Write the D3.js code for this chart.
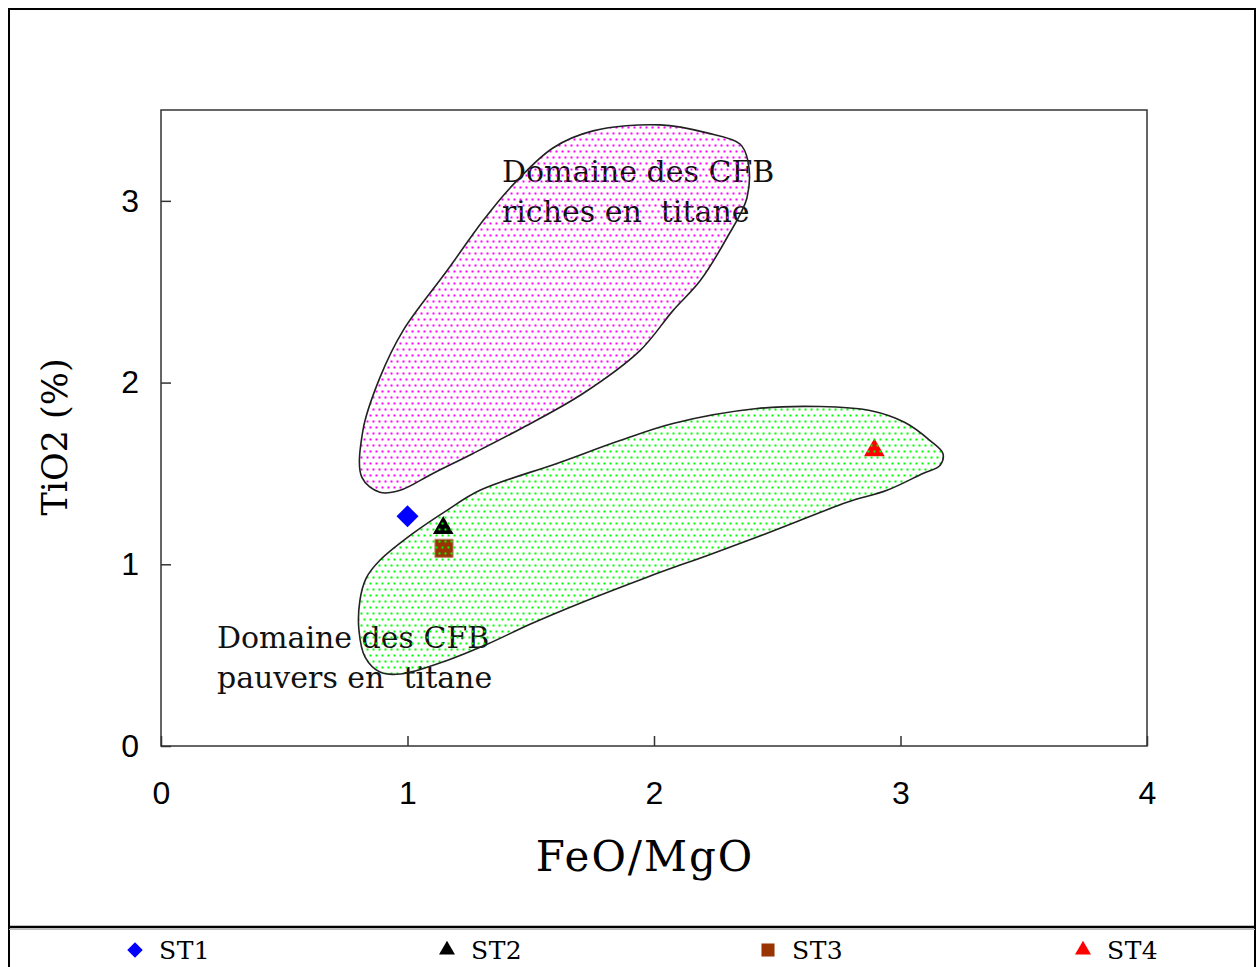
<!DOCTYPE html>
<html>
<head>
<meta charset="utf-8">
<script src="https://cdn.jsdelivr.net/npm/d3@7/dist/d3.min.js"></script>
<style>
  html, body { margin: 0; padding: 0; background: #fff; }
  svg { display: block; }
  text { white-space: pre; }
</style>
</head>
<body>
<svg id="chart" width="1258" height="967"></svg>
<script>
// Axis ticks
const xTicks = [0, 1, 2, 3, 4];
const yTicks = [0, 1, 2, 3];

// Samples: FeO/MgO vs TiO2 (%)
const sampleNames = ["ST1", "ST2", "ST3", "ST4"];
const sampleFeOMgO = [1.00, 1.145, 1.148, 2.894];
const sampleTiO2 = [1.264, 1.200, 1.088, 1.628];
const sampleShapes = ["diamond", "triangle", "square", "triangle"];
const sampleColors = ["#0000ff", "#000000", "#993300", "#ff0000"];

// Field of Ti-rich continental flood basalts (outline)
const richFieldX = [0.888, 0.815, 0.819, 0.888, 0.982, 1.160, 1.306, 1.416, 1.590, 1.753, 2.024, 2.215, 2.349, 2.381, 2.377, 2.296, 2.187, 2.077, 1.943, 1.712, 1.469, 1.266, 1.103, 0.970];
const richFieldY = [1.396, 1.478, 1.736, 2.027, 2.286, 2.615, 2.890, 3.071, 3.291, 3.385, 3.418, 3.374, 3.313, 3.220, 3.016, 2.797, 2.560, 2.396, 2.176, 1.940, 1.753, 1.610, 1.500, 1.407];

// Field of Ti-poor continental flood basalts (outline)
const poorFieldX = [0.807, 0.832, 0.888, 1.022, 1.160, 1.294, 1.606, 1.862, 2.077, 2.418, 2.673, 2.876, 3.018, 3.120, 3.172, 3.160, 3.091, 2.945, 2.783, 2.511, 2.239, 1.972, 1.700, 1.497, 1.323, 1.152, 0.970, 0.888, 0.828, 0.803];
const poorFieldY = [0.802, 0.923, 1.022, 1.170, 1.297, 1.407, 1.555, 1.681, 1.775, 1.857, 1.868, 1.846, 1.780, 1.681, 1.610, 1.544, 1.500, 1.407, 1.341, 1.198, 1.060, 0.929, 0.786, 0.670, 0.560, 0.467, 0.396, 0.407, 0.489, 0.637];

// Field captions: anchor point (data units) and lines
const richLabelX = 1.383, richLabelY = [3.105, 2.886];
const richLabelLines = ["Domaine des CFB", "riches en  titane"];
const poorLabelX = 0.227, poorLabelY = [0.539, 0.321];
const poorLabelLines = ["Domaine des CFB", "pauvers en  titane"];

const svg = d3.select("#chart");
const W = 1258, H = 967;
const plot = { left: 161, top: 110, right: 1147, bottom: 746 };

const x = d3.scaleLinear().domain([0, 4]).range([plot.left, plot.right]);
const y = d3.scaleLinear().domain([0, 3.5]).range([plot.bottom, plot.top]);

// Dot patterns for the two fields
const defs = svg.append("defs");
function dotPattern(id, color) {
  const p = defs.append("pattern").attr("id", id)
    .attr("patternUnits", "userSpaceOnUse")
    .attr("width", 6).attr("height", 12);
  p.append("rect").attr("x", 0.5).attr("y", 0.5).attr("width", 2).attr("height", 2).attr("fill", color);
  p.append("rect").attr("x", 3.5).attr("y", 6.5).attr("width", 2).attr("height", 2).attr("fill", color);
}
dotPattern("dotsRich", "#ff00ff");
dotPattern("dotsPoor", "#00ff00");

// Outer frame
svg.append("path")
  .attr("d", `M9,${H} V9 H1255 V${H}`)
  .attr("fill", "none").attr("stroke", "#000").attr("stroke-width", 2);
svg.append("line")
  .attr("x1", 9).attr("x2", 1255).attr("y1", 927).attr("y2", 927)
  .attr("stroke", "#000").attr("stroke-width", 2.5);
svg.append("line")
  .attr("x1", 9).attr("x2", 1255).attr("y1", 929.5).attr("y2", 929.5)
  .attr("stroke", "#bbb").attr("stroke-width", 1);

// Plot box
svg.append("rect")
  .attr("x", plot.left).attr("y", plot.top)
  .attr("width", plot.right - plot.left).attr("height", plot.bottom - plot.top)
  .attr("fill", "none").attr("stroke", "#333").attr("stroke-width", 1.5);

// Axes with inward ticks
const xAxis = d3.axisBottom(x).tickValues(xTicks).tickSize(-10).tickPadding(35).tickFormat(d3.format("d"));
const yAxis = d3.axisLeft(y).tickValues(yTicks).tickSize(-10).tickPadding(22).tickFormat(d3.format("d"));

const gx = svg.append("g").attr("transform", `translate(0,${plot.bottom})`).call(xAxis);
const gy = svg.append("g").attr("transform", `translate(${plot.left},0)`).call(yAxis);
[gx, gy].forEach(g => {
  g.select(".domain").remove();
  g.selectAll(".tick line").attr("stroke", "#333").attr("stroke-width", 1.5);
  g.selectAll(".tick text")
    .attr("fill", "#000")
    .style("font-family", "'Liberation Sans', Arial, sans-serif")
    .style("font-size", "32px");
});
gx.selectAll(".tick text").attr("dy", "0.71em");

// Axis titles
svg.append("text")
  .attr("x", 645).attr("y", 871)
  .attr("text-anchor", "middle")
  .style("font-family", "'DejaVu Serif', serif")
  .style("font-size", "42px")
  .style("letter-spacing", "2px")
  .text("FeO/MgO");

svg.append("text")
  .attr("transform", `translate(67,${(plot.top + plot.bottom) / 2 + 9}) rotate(-90)`)
  .attr("text-anchor", "middle")
  .style("font-family", "'DejaVu Serif', serif")
  .style("font-size", "35px")
  .text("TiO2 (%)");

// Field captions
function caption(lines, lx, ly) {
  lines.forEach((t, i) => {
    svg.append("text")
      .attr("x", x(lx)).attr("y", y(ly[i]))
      .style("font-family", "'DejaVu Serif', serif")
      .style("font-size", "30px")
      .attr("fill", "#111")
      .text(t);
  });
}
caption(richLabelLines, richLabelX, richLabelY);
caption(poorLabelLines, poorLabelX, poorLabelY);

// Sample markers
const symbolOf = {
  diamond: d3.symbol(d3.symbolSquare, 243),
  triangle: d3.symbol(d3.symbolTriangle, 185),
  square: d3.symbol(d3.symbolSquare, 330)
};
const samples = sampleNames.map((n, i) => ({
  name: n, fx: sampleFeOMgO[i], ti: sampleTiO2[i], shape: sampleShapes[i], color: sampleColors[i]
}));
svg.append("g").selectAll("path")
  .data(samples)
  .join("path")
  .attr("d", d => symbolOf[d.shape]())
  .attr("transform", d => `translate(${x(d.fx)},${y(d.ti)})` + (d.shape === "diamond" ? " rotate(45)" : ""))
  .attr("fill", d => d.color)
  .attr("stroke", d => d.shape === "square" ? "#c08a70" : "none")
  .attr("stroke-width", 1);

// Fields: dotted fill and outline
const line = d3.line().x(d => x(d[0])).y(d => y(d[1])).curve(d3.curveCatmullRomClosed.alpha(0.5));
const richPts = richFieldX.map((v, i) => [v, richFieldY[i]]);
const poorPts = poorFieldX.map((v, i) => [v, poorFieldY[i]]);

[[richPts, "dotsRich"], [poorPts, "dotsPoor"]].forEach(([pts, pat]) => {
  svg.append("path").attr("d", line(pts)).attr("fill", `url(#${pat})`).attr("stroke", "none");
  svg.append("path").attr("d", line(pts)).attr("fill", "none").attr("stroke", "#222").attr("stroke-width", 1.6);
});

// Legend
const legendX = [135, 447, 768, 1083];
const legendSym = {
  diamond: d3.symbol(d3.symbolSquare, 120),
  triangle: d3.symbol(d3.symbolTriangle, 110),
  square: d3.symbol(d3.symbolSquare, 170)
};
const lg = svg.append("g").selectAll("g").data(samples).join("g")
  .attr("transform", (d, i) => `translate(${legendX[i]},950)`);
lg.append("path")
  .attr("d", d => legendSym[d.shape]())
  .attr("transform", d => d.shape === "diamond" ? "rotate(45)" : "")
  .attr("fill", d => d.color);
lg.append("text")
  .attr("x", 24).attr("y", 9)
  .style("font-family", "'DejaVu Serif', serif")
  .style("font-size", "25px")
  .style("letter-spacing", "0.5px")
  .text(d => d.name);
</script>
</body>
</html>
